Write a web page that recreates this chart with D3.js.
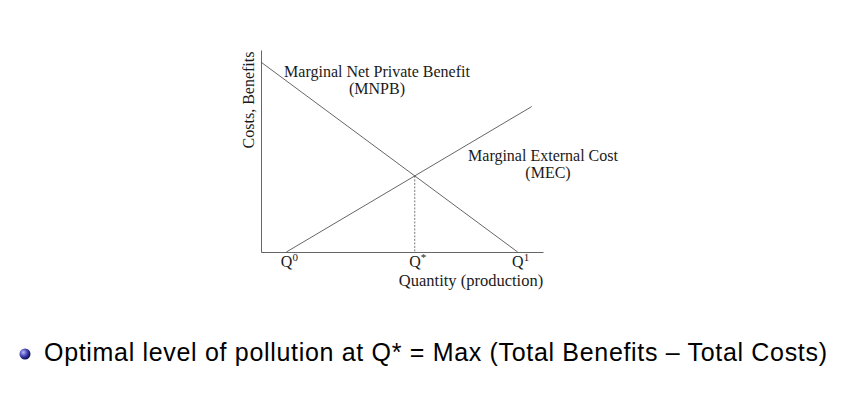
<!DOCTYPE html>
<html>
<head>
<meta charset="utf-8">
<script src="https://cdn.jsdelivr.net/npm/d3@7"></script>
<style>
  html, body { margin: 0; padding: 0; background: #fff; }
  svg { display: block; }
  .serif { font-family: "Liberation Serif", "DejaVu Serif", serif; fill: #1a1a1a; }
  .sans { font-family: "Liberation Sans", "DejaVu Sans", sans-serif; fill: #000; }
</style>
</head>
<body>
<svg width="854" height="398"></svg>
<script>
const svg = d3.select("svg");

// curves (quantity 0..100, cost/benefit 0..100)
const mnpb = [{ q: 0, v: 94 }, { q: 91, v: 0 }];
const mec = [{ q: 9, v: 0 }, { q: 96, v: 72 }];
const tickNames = ["0", "*", "1"];
const tickQs = [9, 54.5, 91];

const x = d3.scaleLinear().domain([0, 100]).range([261, 543]);
const y = d3.scaleLinear().domain([0, 100]).range([252, 50]);

// where the two lines cross
function lineAt(pts, q) {
    const t = (q - pts[0].q) / (pts[1].q - pts[0].q);
    return pts[0].v + t * (pts[1].v - pts[0].v);
}
const s1 = (mnpb[1].v - mnpb[0].v) / (mnpb[1].q - mnpb[0].q);
const s2 = (mec[1].v - mec[0].v) / (mec[1].q - mec[0].q);
const qStar = (mec[0].v - s2 * mec[0].q - (mnpb[0].v - s1 * mnpb[0].q)) / (s1 - s2);
const vStar = lineAt(mnpb, qStar);

// axes
svg.append("g")
    .attr("transform", `translate(0,${y(0)})`)
    .call(d3.axisBottom(x).tickValues([]).tickSizeOuter(0))
    .select(".domain").attr("stroke", "#666");
svg.append("g")
    .attr("transform", `translate(${x(0)},0)`)
    .call(d3.axisLeft(y).tickValues([]).tickSizeOuter(0))
    .select(".domain").attr("stroke", "#666");

const line = d3.line().x(d => x(d.q)).y(d => y(d.v));

svg.append("path").datum(mnpb).attr("d", line)
    .attr("fill", "none").attr("stroke", "#555").attr("stroke-width", 0.9);
svg.append("path").datum(mec).attr("d", line)
    .attr("fill", "none").attr("stroke", "#555").attr("stroke-width", 0.9);

svg.append("line")
    .attr("x1", x(qStar)).attr("x2", x(qStar))
    .attr("y1", y(vStar)).attr("y2", y(0))
    .attr("stroke", "#555").attr("stroke-width", 0.8)
    .attr("stroke-dasharray", "2,1.5");

// tick labels Q0, Q*, Q1
tickQs.forEach((q, i) => {
    const t = svg.append("text").attr("class", "serif")
        .attr("x", x(q) + 3).attr("y", 267)
        .attr("text-anchor", "middle")
        .style("font-size", "16px");
    t.append("tspan").text("Q");
    t.append("tspan").attr("dy", -6).style("font-size", "11px").text(tickNames[i]);
});

svg.append("text").attr("class", "serif")
    .attr("x", 471).attr("y", 286)
    .attr("text-anchor", "middle").style("font-size", "16.5px")
    .text("Quantity (production)");

svg.append("text").attr("class", "serif")
    .attr("transform", "translate(254,100) rotate(-90)")
    .attr("text-anchor", "middle").style("font-size", "16px")
    .text("Costs, Benefits");

svg.append("text").attr("class", "serif")
    .attr("x", 377).attr("y", 77)
    .attr("text-anchor", "middle").style("font-size", "16px")
    .text("Marginal Net Private Benefit");
svg.append("text").attr("class", "serif")
    .attr("x", 377).attr("y", 94)
    .attr("text-anchor", "middle").style("font-size", "16px")
    .text("(MNPB)");

svg.append("text").attr("class", "serif")
    .attr("x", 543).attr("y", 161)
    .attr("text-anchor", "middle").style("font-size", "16px")
    .text("Marginal External Cost");
svg.append("text").attr("class", "serif")
    .attr("x", 548).attr("y", 178)
    .attr("text-anchor", "middle").style("font-size", "16px")
    .text("(MEC)");

// bullet line
const grad = svg.append("defs").append("radialGradient")
    .attr("id", "ball").attr("cx", "35%").attr("cy", "35%").attr("r", "65%");
grad.append("stop").attr("offset", "0%").attr("stop-color", "#b8b8f0");
grad.append("stop").attr("offset", "60%").attr("stop-color", "#3a3ab0");
grad.append("stop").attr("offset", "100%").attr("stop-color", "#101050");

svg.append("circle").attr("cx", 25).attr("cy", 354).attr("r", 5.5)
    .attr("fill", "url(#ball)");

svg.append("text").attr("class", "sans")
    .attr("x", 44).attr("y", 361)
    .attr("textLength", 783).attr("lengthAdjust", "spacing")
    .style("font-size", "25px")
    .text("Optimal level of pollution at Q* = Max (Total Benefits \u2013 Total Costs)");
</script>
</body>
</html>
